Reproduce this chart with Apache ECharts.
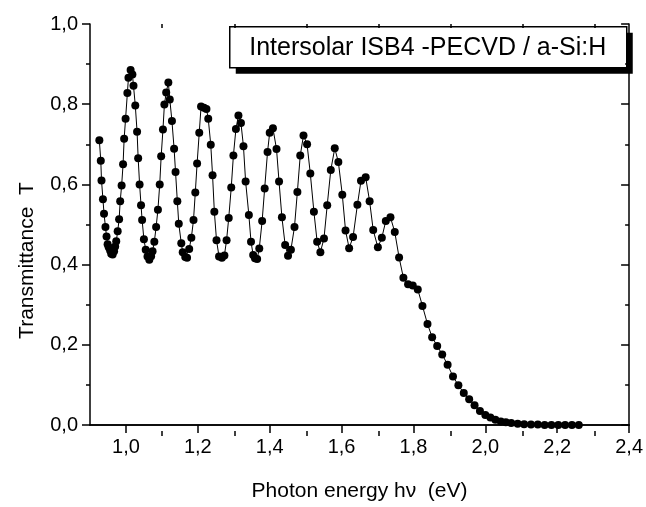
<!DOCTYPE html>
<html>
<head>
<meta charset="utf-8">
<script src="https://cdn.jsdelivr.net/npm/echarts@6/dist/echarts.min.js"></script>
<style>
  html, body { margin: 0; padding: 0; background: #fff; }
  #chart { width: 646px; height: 507px; }
</style>
</head>
<body>
<div id="chart"></div>
<script>
// photon energy (eV)
const energy = [
  0.926, 0.930, 0.932, 0.936, 0.939, 0.943, 0.946, 0.949, 0.952, 0.956,
  0.959, 0.963, 0.967, 0.970, 0.973, 0.977, 0.981, 0.984, 0.988, 0.992,
  0.995, 0.999, 1.004, 1.007, 1.013, 1.018, 1.021, 1.026, 1.031, 1.034,
  1.038, 1.042, 1.045, 1.050, 1.055, 1.060, 1.065, 1.070, 1.074, 1.079,
  1.084, 1.089, 1.094, 1.098, 1.103, 1.107, 1.112, 1.118, 1.122, 1.128,
  1.134, 1.138, 1.143, 1.147, 1.154, 1.158, 1.165, 1.170, 1.176, 1.182,
  1.188, 1.193, 1.198, 1.204, 1.209, 1.217, 1.224, 1.229, 1.236, 1.241,
  1.246, 1.252, 1.259, 1.267, 1.274, 1.280, 1.286, 1.293, 1.299, 1.306,
  1.313, 1.320, 1.327, 1.333, 1.342, 1.348, 1.354, 1.359, 1.365, 1.371,
  1.379, 1.386, 1.394, 1.400, 1.409, 1.419, 1.426, 1.434, 1.443, 1.451,
  1.459, 1.469, 1.477, 1.485, 1.494, 1.504, 1.513, 1.523, 1.532, 1.541,
  1.551, 1.560, 1.570, 1.581, 1.591, 1.602, 1.611, 1.621, 1.632, 1.644,
  1.654, 1.667, 1.678, 1.688, 1.701, 1.712, 1.723, 1.736, 1.748, 1.760,
  1.772, 1.785, 1.798, 1.812, 1.825, 1.839, 1.852, 1.866, 1.880, 1.895,
  1.910, 1.925, 1.940, 1.955, 1.970, 1.985, 2.000, 2.014, 2.028, 2.043,
  2.057, 2.072, 2.090, 2.108, 2.127, 2.146, 2.165, 2.184, 2.203, 2.222,
  2.241, 2.260
];

// transmittance T
const transmittance = [
  0.710, 0.659, 0.610, 0.563, 0.527, 0.494, 0.470, 0.451, 0.443, 0.435,
  0.427, 0.425, 0.433, 0.445, 0.458, 0.483, 0.513, 0.558, 0.597, 0.650,
  0.714, 0.764, 0.828, 0.866, 0.885, 0.874, 0.846, 0.797, 0.731, 0.665,
  0.600, 0.548, 0.511, 0.463, 0.437, 0.420, 0.412, 0.421, 0.433, 0.457,
  0.494, 0.537, 0.600, 0.670, 0.737, 0.799, 0.829, 0.854, 0.812, 0.758,
  0.689, 0.631, 0.558, 0.502, 0.453, 0.431, 0.419, 0.417, 0.439, 0.467,
  0.511, 0.580, 0.652, 0.729, 0.794, 0.791, 0.788, 0.764, 0.699, 0.623,
  0.532, 0.461, 0.420, 0.417, 0.423, 0.461, 0.516, 0.592, 0.672, 0.738,
  0.772, 0.753, 0.695, 0.607, 0.524, 0.457, 0.424, 0.416, 0.414, 0.440,
  0.509, 0.590, 0.681, 0.729, 0.740, 0.688, 0.607, 0.518, 0.449, 0.422,
  0.437, 0.494, 0.581, 0.672, 0.722, 0.700, 0.627, 0.532, 0.457, 0.431,
  0.465, 0.548, 0.636, 0.690, 0.656, 0.574, 0.485, 0.441, 0.469, 0.549,
  0.609, 0.618, 0.558, 0.486, 0.443, 0.467, 0.509, 0.518, 0.481, 0.418,
  0.367, 0.351, 0.348, 0.338, 0.297, 0.252, 0.219, 0.197, 0.176, 0.150,
  0.121, 0.099, 0.080, 0.064, 0.049, 0.035, 0.025, 0.019, 0.013, 0.009,
  0.007, 0.005, 0.003, 0.002, 0.001, 0.001, 0.000, 0.000, 0.000, 0.000,
  0.000, 0.000
];

// tick positions
const xMajorTicks = [1.0, 1.2, 1.4, 1.6, 1.8, 2.0, 2.2, 2.4];
const xMinorTicks = [1.1, 1.3, 1.5, 1.7, 1.9, 2.1, 2.3];

const legendText = 'Intersolar ISB4 -PECVD / a-Si:H';
const font = "'Liberation Sans', Arial, sans-serif";

const chart = echarts.init(document.getElementById('chart'));

const gridBox = { left: 90, right: 15, top: 24, bottom: 76 };
const comma = v => v.toFixed(1).replace('.', ',');
const black = { color: '#000', width: 1.5 };

const data = energy.map((e, i) => [e, transmittance[i]]);

chart.setOption({
  animation: false,
  grid: [
    Object.assign({}, gridBox),
    Object.assign({}, gridBox)
  ],
  xAxis: [
    {
      gridIndex: 0, type: 'value', position: 'bottom', min: 0.9, max: 2.4,
      axisLine: { lineStyle: black },
      axisTick: { customValues: xMajorTicks, length: 8, lineStyle: black },
      axisLabel: {
        customValues: xMajorTicks, formatter: comma, margin: 12,
        color: '#000', fontSize: 20, fontFamily: font
      },
      splitLine: { show: false },
      name: 'Photon energy h\u03bd  (eV)', nameLocation: 'middle', nameGap: 56,
      nameTextStyle: { color: '#000', fontSize: 21, fontFamily: font }
    },
    {
      gridIndex: 0, type: 'value', position: 'top', min: 0.9, max: 2.4,
      axisLine: { lineStyle: black },
      axisTick: { customValues: xMajorTicks, inside: true, length: 7, lineStyle: black },
      axisLabel: { show: false },
      splitLine: { show: false }
    },
    {
      gridIndex: 1, type: 'value', position: 'bottom', min: 0.9, max: 2.4,
      axisLine: { show: false },
      axisTick: { customValues: xMinorTicks, length: 5, lineStyle: black },
      axisLabel: { show: false },
      splitLine: { show: false }
    },
    {
      gridIndex: 1, type: 'value', position: 'top', min: 0.9, max: 2.4,
      axisLine: { show: false },
      axisTick: { customValues: xMinorTicks, inside: true, length: 4, lineStyle: black },
      axisLabel: { show: false },
      splitLine: { show: false }
    }
  ],
  yAxis: [
    {
      gridIndex: 0, type: 'value', position: 'left', min: 0, max: 1, interval: 0.2,
      axisLine: { show: true, lineStyle: black },
      axisTick: { show: true, length: 8, lineStyle: black },
      minorTick: { show: true, splitNumber: 2, length: 4, lineStyle: black },
      axisLabel: { formatter: comma, margin: 12, color: '#000', fontSize: 20, fontFamily: font },
      splitLine: { show: false },
      name: 'Transmittance  T', nameLocation: 'middle', nameGap: 52,
      nameTextStyle: { color: '#000', fontSize: 21, fontFamily: font, padding: [0, 72, 0, 0] }
    },
    {
      gridIndex: 0, type: 'value', position: 'right', min: 0, max: 1, interval: 0.2,
      axisLine: { show: true, lineStyle: black },
      axisTick: { show: true, inside: true, length: 8, lineStyle: black },
      minorTick: { show: true, splitNumber: 2, length: 4, lineStyle: black },
      axisLabel: { show: false },
      splitLine: { show: false }
    },
    {
      gridIndex: 1, type: 'value', min: 0, max: 1, show: false
    }
  ],
  series: [
    {
      type: 'line',
      xAxisIndex: 0,
      yAxisIndex: 0,
      data: data,
      clip: false,
      symbol: 'circle',
      symbolSize: 8,
      showAllSymbol: true,
      itemStyle: { color: '#000' },
      lineStyle: { color: '#000', width: 1 }
    }
  ],
  graphic: [
    {
      type: 'group',
      left: 229,
      top: 26,
      children: [
        { type: 'rect', shape: { x: 6, y: 6, width: 397, height: 41 }, style: { fill: '#000' } },
        { type: 'rect', shape: { x: 0, y: 0, width: 397, height: 41 },
          style: { fill: '#fff', stroke: '#000', lineWidth: 1.5 } },
        { type: 'text', x: 198, y: 21,
          style: { text: legendText, fill: '#000', font: '25px ' + font, align: 'center', verticalAlign: 'middle' } }
      ]
    }
  ]
});
</script>
</body>
</html>
